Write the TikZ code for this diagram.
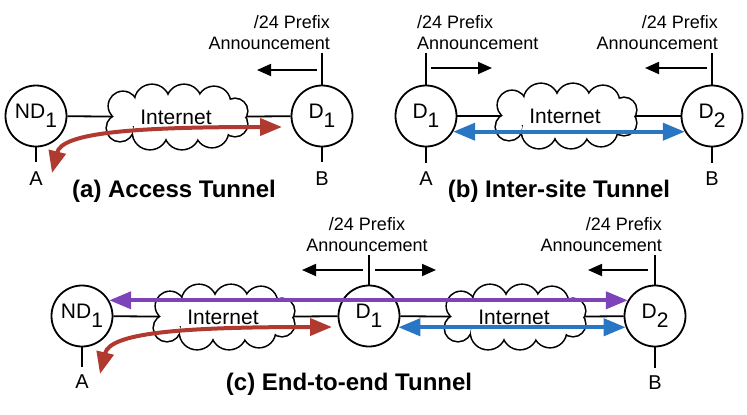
\documentclass[tikz,border=0pt]{standalone}
\usepackage{fontspec}
\setmainfont{Liberation Sans}
\usetikzlibrary{arrows.meta}
\pgfdeclarelayer{background}
\pgfsetlayers{background,main}
\definecolor{tred}{RGB}{176,58,48}
\definecolor{tblue}{RGB}{40,118,196}
\definecolor{tpurple}{RGB}{124,68,184}
\newcommand\lowsub[1]{\raisebox{-0.42em}{#1}}
\newcommand\puffs{(-53,-11)/14,(-24,-15)/17,(8,-15)/17,(38,-14)/16,(59,-6)/12,(-56,11)/13,(-26,15)/17,(6,15)/17,(36,14)/16,(59,7)/12}
\newcommand\netcloud[1]{%
  \begin{scope}[shift={(#1.center)}]
    \foreach \p/\r in \puffs {\draw[line width=3.2bp] \p circle (\r);}
    \foreach \p/\r in \puffs {\fill[white] \p circle (\r);}
    \fill[white] (-55,-9) rectangle (58,9);
  \end{scope}}
\tikzset{
 host/.style={circle,draw,line width=1.8bp,minimum size=61bp,inner sep=0pt,font=\fontsize{21bp}{24bp}\selectfont},
 net/.style={rectangle,minimum width=143bp,minimum height=60bp,inner sep=0pt,font=\fontsize{21bp}{24bp}\selectfont},
 wire/.style={line width=1.8bp},
 ann/.style={line width=1.8bp,-{Triangle[length=14bp,width=12bp]}},
 lbl/.style={inner sep=0pt,font=\fontsize{18bp}{21bp}\selectfont},
 endlbl/.style={inner sep=0pt,font=\fontsize{20bp}{24bp}\selectfont},
 captext/.style={inner sep=0pt,font=\fontsize{24bp}{28bp}\selectfont\bfseries},
 tun/.style={line width=4bp,{Triangle[length=22bp,width=17bp]}-{Triangle[length=22bp,width=17bp]}},
}
\begin{document}
\begin{tikzpicture}[x=1bp,y=-1bp]
\useasboundingbox (0,0) rectangle (747,414);

% ---------- (a) ----------
\node[host] (aND) at (36,116) {ND\lowsub{1}};
\node[host] (aD) at (322,116) {D\lowsub{1}};
\node[net] (aI) at (176,117) {Internet};
\begin{pgfonlayer}{background}
\draw[wire] (aND) -- (aI.center);
\draw[wire] (aI.center) -- (aD);
\netcloud{aI}
\end{pgfonlayer}
\coordinate (aDt) at (322,53);
\coordinate (aNDb) at (36,162);
\coordinate (aDb) at (322,162);
\draw[wire] (aD.north) -- (aDt);
\draw[wire] (aND.south) -- (aNDb);
\draw[wire] (aD.south) -- (aDb);
\node[lbl,align=right,anchor=east] (aP) at (330,33) {/24 Prefix\\Announcement};
\coordinate (aA1) at (317,70); \coordinate (aA2) at (257,70);
\draw[ann] (aA1) -- (aA2);
\node[endlbl] (aA) at (36,179) {A};
\node[endlbl] (aB) at (322,179) {B};
\coordinate (aR1) at (282,127); \coordinate (aR2) at (52,173);
\draw[tun,tred] (aR2) .. controls (62,133) and (130,127) .. (aR1);
\node[captext] (aC) at (174,191) {(a) Access Tunnel};

% ---------- (b) ----------
\node[host] (bD1) at (426,116) {D\lowsub{1}};
\node[host] (bD2) at (712,116) {D\lowsub{2}};
\node[net] (bI) at (565,116) {Internet};
\begin{pgfonlayer}{background}
\draw[wire] (bD1) -- (bI.center);
\draw[wire] (bI.center) -- (bD2);
\netcloud{bI}
\end{pgfonlayer}
\coordinate (bD1t) at (426,53);
\coordinate (bD2t) at (712,53);
\coordinate (bD1b) at (426,163);
\coordinate (bD2b) at (712,163);
\draw[wire] (bD1.north) -- (bD1t);
\draw[wire] (bD2.north) -- (bD2t);
\draw[wire] (bD1.south) -- (bD1b);
\draw[wire] (bD2.south) -- (bD2b);
\node[lbl,align=left,anchor=west] (bP1) at (417,33) {/24 Prefix\\Announcement};
\node[lbl,align=right,anchor=east] (bP2) at (718,33) {/24 Prefix\\Announcement};
\coordinate (bA1) at (431,68); \coordinate (bA2) at (492,68);
\coordinate (bA3) at (707,68); \coordinate (bA4) at (645,68);
\draw[ann] (bA1) -- (bA2);
\draw[ann] (bA3) -- (bA4);
\node[endlbl] (bA) at (426,179) {A};
\node[endlbl] (bB) at (712,179) {B};
\draw[tun,tblue] (bD1.-30) -- (bD2.210);
\node[captext] (bC) at (559,191) {(b) Inter-site Tunnel};

% ---------- (c) ----------
\node[host] (cND) at (82,316) {ND\lowsub{1}};
\node[host] (cD1) at (369,316) {D\lowsub{1}};
\node[host] (cD2) at (655,316) {D\lowsub{2}};
\node[net] (cI1) at (223,317) {Internet};
\node[net] (cI2) at (514,317) {Internet};
\begin{pgfonlayer}{background}
\draw[wire] (cND) -- (cI1.center);
\draw[wire] (cI1.center) -- (cD1);
\draw[wire] (cD1) -- (cI2.center);
\draw[wire] (cI2.center) -- (cD2);
\netcloud{cI1}
\netcloud{cI2}
\end{pgfonlayer}
\coordinate (cD1t) at (369,255);
\coordinate (cD2t) at (655,255);
\coordinate (cNDb) at (82,367);
\coordinate (cD2b) at (655,368);
\draw[wire] (cD1.north) -- (cD1t);
\draw[wire] (cD2.north) -- (cD2t);
\draw[wire] (cND.south) -- (cNDb);
\draw[wire] (cD2.south) -- (cD2b);
\node[lbl,align=center] (cP1) at (367,235) {/24 Prefix\\Announcement};
\node[lbl,align=right,anchor=east] (cP2) at (662,235) {/24 Prefix\\Announcement};
\coordinate (cA1) at (363,270); \coordinate (cA2) at (302,270);
\coordinate (cA3) at (375,270); \coordinate (cA4) at (436,270);
\coordinate (cA5) at (648,270); \coordinate (cA6) at (588,270);
\draw[ann] (cA1) -- (cA2);
\draw[ann] (cA3) -- (cA4);
\draw[ann] (cA5) -- (cA6);
\node[endlbl] (cA) at (82,382) {A};
\node[endlbl] (cB) at (655,383) {B};
\draw[tun,tpurple] (cND.30) -- (cD2.150);
\draw[tun,tblue] (cD1.-21) -- (cD2.201);
\coordinate (cR1) at (332,327); \coordinate (cR2) at (100,374);
\draw[tun,tred] (cR2) .. controls (110,333) and (178,327) .. (cR1);
\node[captext] (cC) at (349,384) {(c) End-to-end Tunnel};
\end{tikzpicture}
\end{document}
